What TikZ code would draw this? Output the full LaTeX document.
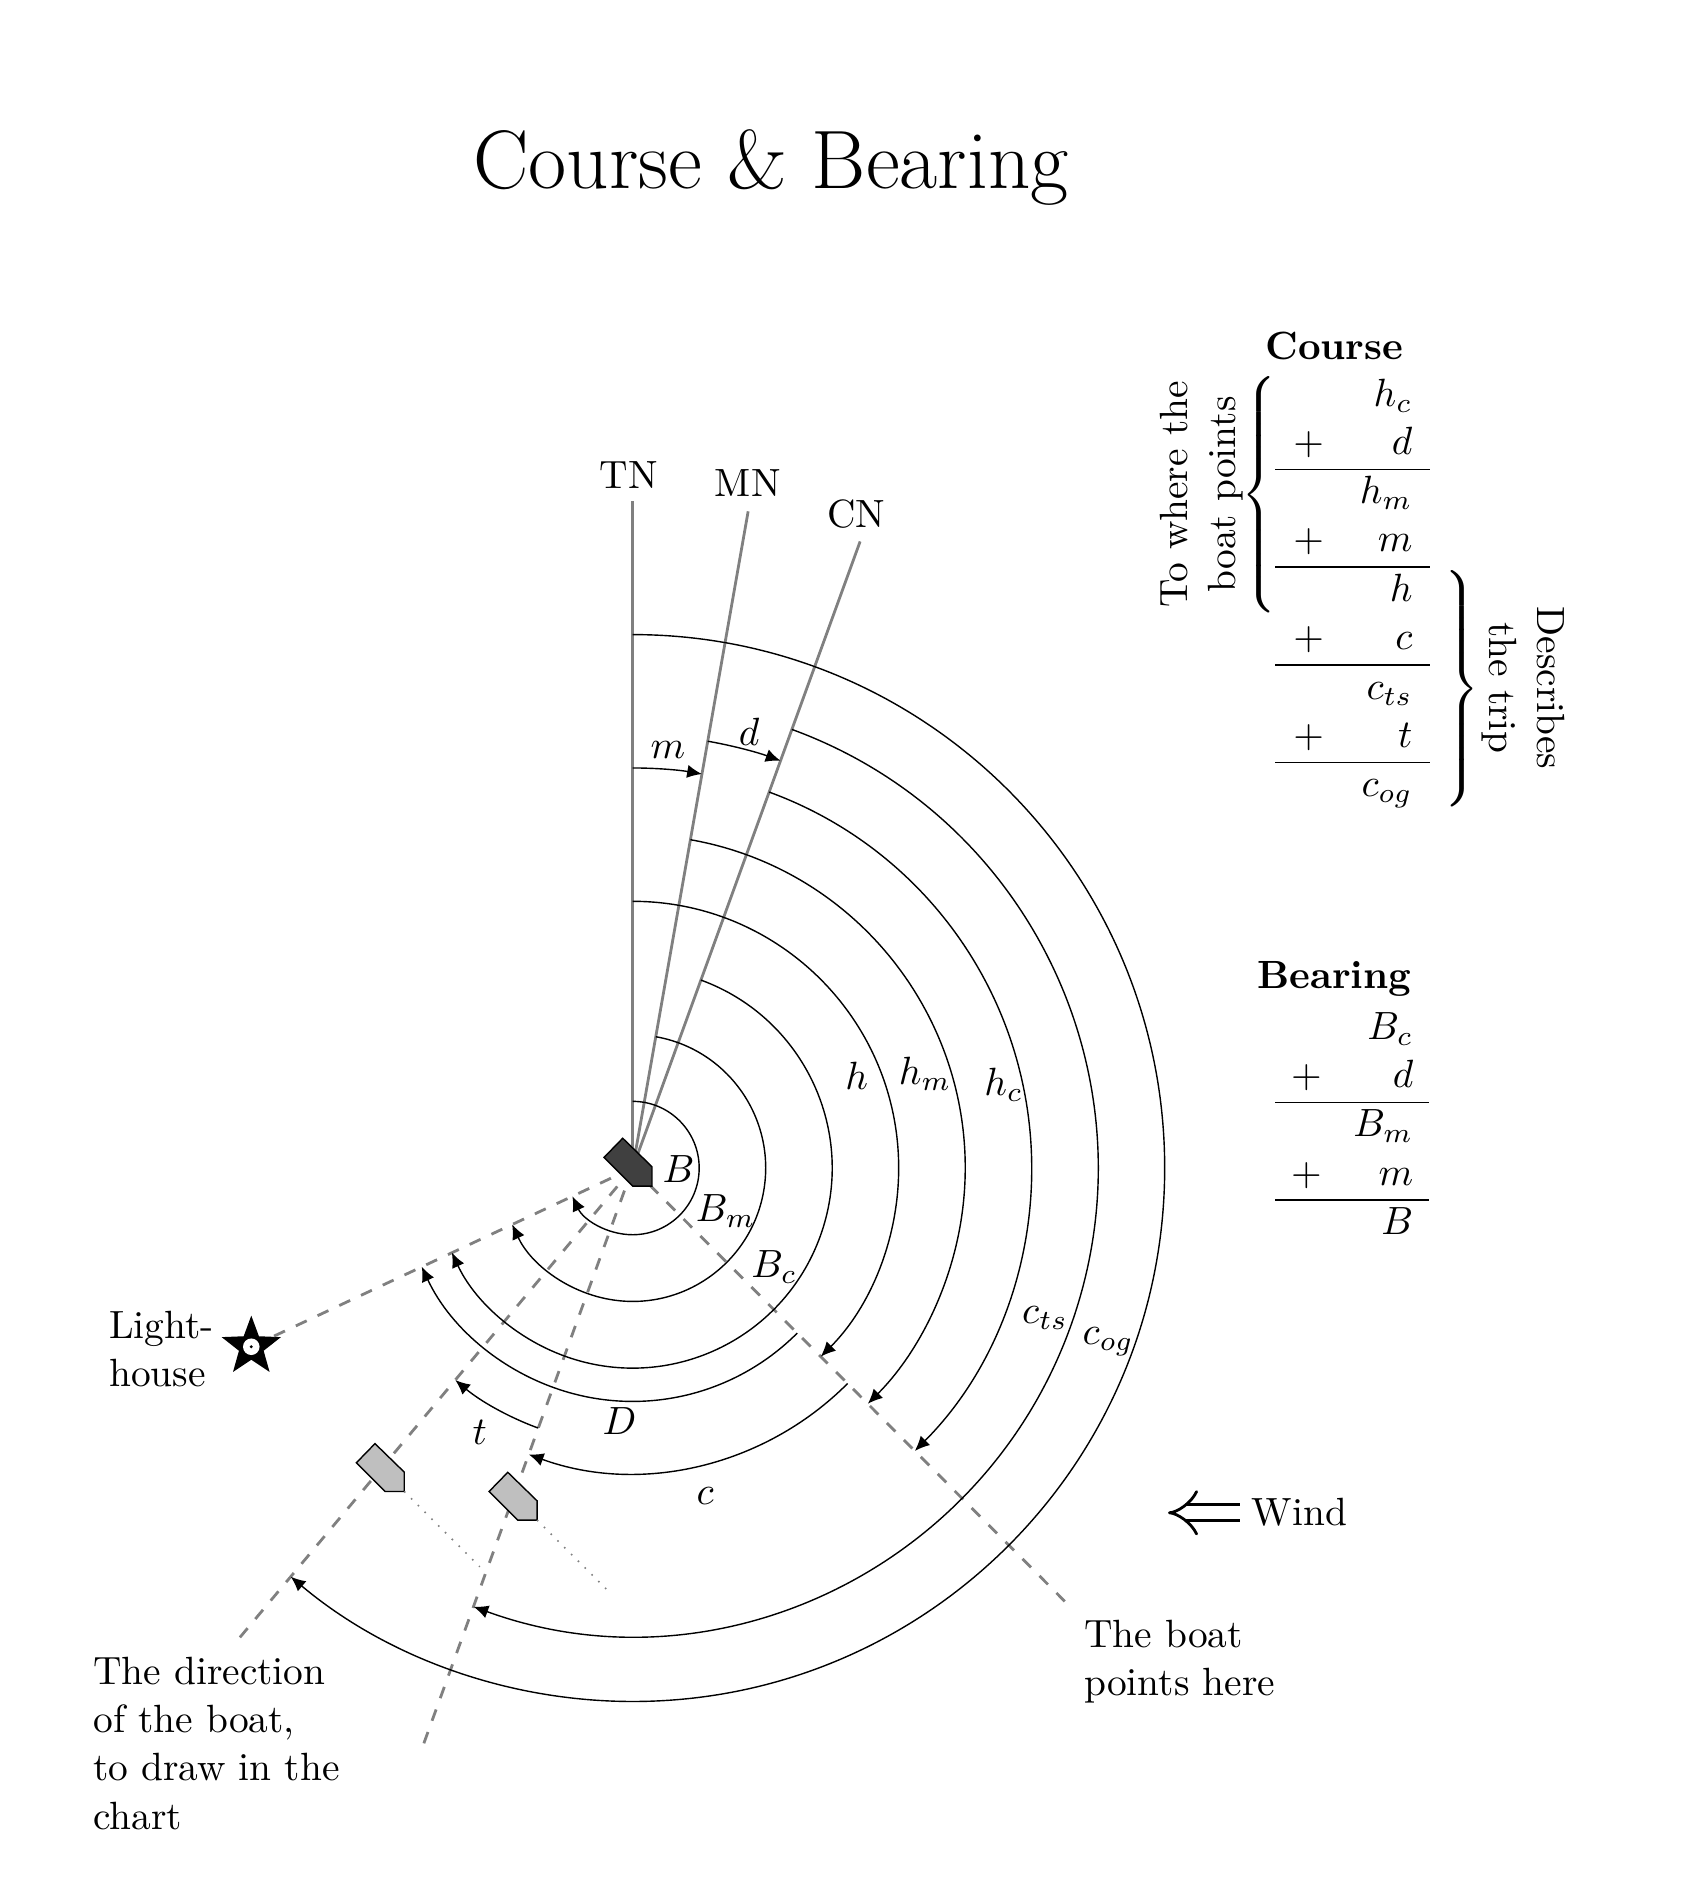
\documentclass[tikz,border=0pt]{standalone}
\usetikzlibrary{arrows.meta, shapes.geometric}
\tikzset{
    north/.style={gray, line width=0.7pt},
    sight/.style={gray, dashed, line width=0.7pt},
    wake/.style={gray, dotted, line width=0.4pt},
    course/.style={-{Latex[length=3.7pt, width=3.3pt]}, line width=0.35pt},
    plain/.style={-, line width=0.35pt},
    tabhead/.style={font=\fontsize{10}{12.2}\selectfont\bfseries},
}
\newcommand{\hullpath}{(-0.15,0.447) -- (-0.43,0.16) -- (0,-0.27) -- (0.29,-0.27) -- (0.29,0.02) -- cycle}
\begin{document}
\begin{tikzpicture}[x=16.625pt, y=16.67pt,
    every node/.style={font=\fontsize{10}{12.2}\selectfont, scale=0.985}]
\useasboundingbox (-9.514,-11.037) rectangle (15.749,17.517);

\node[font=\huge, scale=1.0152] (title) at (2.08,15.0) {Course \& Bearing};

\coordinate (boat) at (0,0);
\coordinate (tn) at (90:10);
\coordinate (mn) at (80:10);
\coordinate (cn) at (70:10);
\coordinate (pointshere) at (-45:9.25);
\coordinate (chartA) at (230:9.2);
\coordinate (chartB) at (250:9.2);
\node[star, star points=5, star point ratio=2.4, minimum size=15.8pt, inner sep=0pt, fill=black] (lighthouse) at (-5.735,-2.68) {};

% --- north lines and sight lines ---
\draw[north] (boat) -- (tn);
\draw[north] (boat) -- (mn);
\draw[north] (boat) -- (cn);
\draw[sight] (boat) -- (lighthouse);
\draw[sight] (boat) -- (pointshere);
\draw[sight] (boat) -- (chartA);
\draw[sight] (boat) -- (chartB);

\node (tnlabel) at (-0.06,10.40) {TN};
\node (mnlabel) at (1.73,10.27) {MN};
\node (cnlabel) at (3.36,9.81) {CN};

% --- arcs, radius/start/end ---
\foreach \r/\from/\to in {1/90/-155, 2/80/-155, 3/70/-155, 3.5/-45/-155,
                          4/90/-45, 5/80/-45, 6/70/-45, 4.57/-45/-110,
                          4.15/-110/-130, 7/70/-110, 8/90/-130, 6/90/80, 6.5/80/70}
    \draw[course] (\from:\r) arc (\from:\to:\r);

\node (blabel) at (0.69,-0.01) {$B$};
\node (bmlabel) at (1.40,-0.65) {$B_m$};
\node (bclabel) at (2.13,-1.49) {$B_c$};
\node (hlabel) at (3.37,1.39) {$h$};
\node (hmlabel) at (4.40,1.41) {$h_m$};
\node (hclabel) at (5.58,1.25) {$h_c$};
\node (ctslabel) at (6.20,-2.25) {$c_{ts}$};
\node (coglabel) at (7.15,-2.6) {$c_{og}$};
\node (dlabel) at (-0.2,-3.79) {$D$};
\node (tlabel) at (-2.3,-3.96) {$t$};
\node (clabel) at (1.09,-4.92) {$c$};
\node (mlabel) at (0.53,6.27) {$m$};
\node (declabel) at (1.75,6.54) {$d$};

% --- boats ---
\draw[plain, fill=black!75] \hullpath;
\begin{scope}[shift={(-3.725,-4.58)}]
    \draw[plain, fill=black!25] \hullpath;
    \coordinate (bowA) at (0.29,-0.27);
\end{scope}
\begin{scope}[shift={(-1.728,-5.01)}]
    \draw[plain, fill=black!25] \hullpath;
    \coordinate (bowB) at (0.29,-0.27);
\end{scope}
\coordinate (wakeA) at (-2.3,-5.98);
\coordinate (wakeB) at (-0.34,-6.37);
\draw[wake] (bowA) -- (wakeA);
\draw[wake] (bowB) -- (wakeB);

% --- lighthouse ---
\node[circle, fill=white, minimum size=4.2pt, inner sep=0pt] (lamp) at (lighthouse) {};
\node[circle, fill=black, minimum size=0.8pt, inner sep=0pt] (lampdot) at (lighthouse) {};
\node[align=left, anchor=west] (lhlabel) at (-8.08,-2.72) {Light-\\house};

\node[align=left, anchor=west] (dirlabel) at (-8.32,-8.63) {The direction\\of the boat,\\to draw in the\\chart};
\node[align=left, anchor=west] (boatlabel) at (6.58,-7.40) {The boat\\points here};

% --- wind ---
\coordinate (windtail) at (9.13,-5.17);
\coordinate (windtip) at (8.05,-5.17);
\draw[double, double distance=3.3pt, line width=0.7pt, -{Implies}] (windtail) -- (windtip);
\node[anchor=west] (windlabel) at (9.10,-5.16) {Wind};

% --- tables ---
\node[tabhead] (coursehead) at (10.55,12.33) {Course};
\node (coursetab) at (10.83,8.64) {\setlength{\tabcolsep}{4.55pt}\begin{tabular}{cr}
     & $h_c$\\
    $+$ & $d$\\ \hline
     & $h_m$\\
    $+$ & $m$\\ \hline
     & $h$\\
    $+$ & $c$\\ \hline
     & $c_{ts}$\\
    $+$ & $t$\\ \hline
     & $c_{og}$
\end{tabular}};
\node[tabhead] (bearinghead) at (10.55,2.835) {Bearing};
\node (bearingtab) at (10.82,0.61) {\setlength{\tabcolsep}{4.02pt}\begin{tabular}{cr}
     & $B_c$\\
    $+$ & $d$\\ \hline
     & $B_m$\\
    $+$ & $m$\\ \hline
     & $B$
\end{tabular}};

\node (leftbrace) at (9.46,10.05) {$\left\{\rule[-29pt]{0pt}{58pt}\right.$};
\node (rightbrace) at (12.44,7.14) {$\left.\rule[-29pt]{0pt}{58pt}\right\}$};
\node[rotate=90, align=center] (pointstext) at (8.55,10.10) {To where the\\boat points};
\node[rotate=-90, align=center] (triptext) at (13.4,7.2) {Describes\\the trip};
\end{tikzpicture}
\end{document}
